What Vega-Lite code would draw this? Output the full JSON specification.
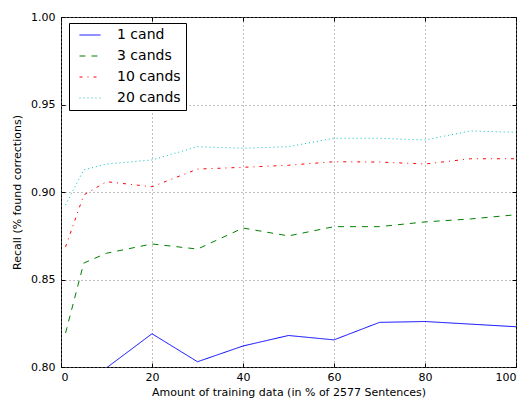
{
  "$schema": "https://vega.github.io/schema/vega-lite/v6.json",
  "width": 455,
  "height": 350,
  "autosize": "none",
  "padding": {"left": 61, "top": 17, "right": 14, "bottom": 34},
  "config": {
    "font": "DejaVu Sans",
    "view": {"stroke": "black", "strokeWidth": 1},
    "axis": {
      "labelFont": "DejaVu Sans",
      "titleFont": "DejaVu Sans",
      "labelFontSize": 11,
      "titleFontSize": 11,
      "titleFontWeight": "normal",
      "labelColor": "black",
      "titleColor": "black",
      "tickColor": "black",
      "domain": false,
      "grid": true,
      "gridColor": "#808080",
      "gridDash": [1, 3],
      "gridOpacity": 1,
      "gridWidth": 1,
      "tickSize": -4,
      "labelPadding": 10
    }
  },
  "data": {
    "values": [
      {"pct": 1, "recall": 0.72, "series": "1 cand"},
      {"pct": 5, "recall": 0.78, "series": "1 cand"},
      {"pct": 10, "recall": 0.7995, "series": "1 cand"},
      {"pct": 20, "recall": 0.819, "series": "1 cand"},
      {"pct": 30, "recall": 0.803, "series": "1 cand"},
      {"pct": 40, "recall": 0.812, "series": "1 cand"},
      {"pct": 50, "recall": 0.818, "series": "1 cand"},
      {"pct": 60, "recall": 0.8155, "series": "1 cand"},
      {"pct": 70, "recall": 0.8255, "series": "1 cand"},
      {"pct": 80, "recall": 0.826, "series": "1 cand"},
      {"pct": 90, "recall": 0.8245, "series": "1 cand"},
      {"pct": 100, "recall": 0.823, "series": "1 cand"},
      {"pct": 1, "recall": 0.8194, "series": "3 cands"},
      {"pct": 5, "recall": 0.8594, "series": "3 cands"},
      {"pct": 10, "recall": 0.865, "series": "3 cands"},
      {"pct": 20, "recall": 0.8703, "series": "3 cands"},
      {"pct": 30, "recall": 0.8674, "series": "3 cands"},
      {"pct": 40, "recall": 0.8794, "series": "3 cands"},
      {"pct": 50, "recall": 0.8749, "series": "3 cands"},
      {"pct": 60, "recall": 0.8802, "series": "3 cands"},
      {"pct": 70, "recall": 0.8802, "series": "3 cands"},
      {"pct": 80, "recall": 0.8829, "series": "3 cands"},
      {"pct": 90, "recall": 0.8846, "series": "3 cands"},
      {"pct": 100, "recall": 0.887, "series": "3 cands"},
      {"pct": 1, "recall": 0.8686, "series": "10 cands"},
      {"pct": 5, "recall": 0.8983, "series": "10 cands"},
      {"pct": 10, "recall": 0.9059, "series": "10 cands"},
      {"pct": 20, "recall": 0.903, "series": "10 cands"},
      {"pct": 30, "recall": 0.9131, "series": "10 cands"},
      {"pct": 40, "recall": 0.9141, "series": "10 cands"},
      {"pct": 50, "recall": 0.9153, "series": "10 cands"},
      {"pct": 60, "recall": 0.9173, "series": "10 cands"},
      {"pct": 70, "recall": 0.9171, "series": "10 cands"},
      {"pct": 80, "recall": 0.916, "series": "10 cands"},
      {"pct": 90, "recall": 0.919, "series": "10 cands"},
      {"pct": 100, "recall": 0.919, "series": "10 cands"},
      {"pct": 1, "recall": 0.8926, "series": "20 cands"},
      {"pct": 5, "recall": 0.9126, "series": "20 cands"},
      {"pct": 10, "recall": 0.916, "series": "20 cands"},
      {"pct": 20, "recall": 0.9183, "series": "20 cands"},
      {"pct": 30, "recall": 0.9259, "series": "20 cands"},
      {"pct": 40, "recall": 0.925, "series": "20 cands"},
      {"pct": 50, "recall": 0.9259, "series": "20 cands"},
      {"pct": 60, "recall": 0.9307, "series": "20 cands"},
      {"pct": 70, "recall": 0.9307, "series": "20 cands"},
      {"pct": 80, "recall": 0.9297, "series": "20 cands"},
      {"pct": 90, "recall": 0.9349, "series": "20 cands"},
      {"pct": 100, "recall": 0.9341, "series": "20 cands"}
    ]
  },
  "layer": [
    {
      "mark": {"type": "line", "clip": true, "strokeWidth": 1},
      "encoding": {
        "x": {
          "field": "pct", "type": "quantitative",
          "scale": {"domain": [0, 100], "nice": false, "zero": false},
          "axis": {"orient": "bottom", "values": [0, 20, 40, 60, 80, 100], "title": "Amount of training data (in % of 2577 Sentences)", "titlePadding": 4, "labelPadding": 8}
        },
        "y": {
          "field": "recall", "type": "quantitative",
          "scale": {"domain": [0.8, 1.0], "nice": false, "zero": false},
          "axis": {"orient": "left", "values": [0.8, 0.85, 0.9, 0.95, 1.0], "format": ".2f", "title": "Recall (% found corrections)", "titlePadding": 8}
        },
        "color": {
          "field": "series", "type": "nominal",
          "scale": {"domain": ["1 cand", "3 cands", "10 cands", "20 cands"], "range": ["#0000ff", "#008000", "#ff0000", "#00bfbf"]},
          "legend": {
            "title": null,
            "orient": "none",
            "legendX": 8,
            "legendY": 6,
            "symbolType": "stroke",
            "symbolSize": 441,
            "symbolStrokeWidth": 1,
            "symbolOffset": 5,
            "clipHeight": 14,
            "labelFontSize": 14,
            "labelFont": "DejaVu Sans",
            "labelColor": "black",
            "labelOffset": 16,
            "rowPadding": 7,
            "padding": 5,
            "strokeColor": "black",
            "fillColor": "white",
            "cornerRadius": 0
          }
        },
        "strokeDash": {
          "field": "series", "type": "nominal",
          "scale": {"domain": ["1 cand", "3 cands", "10 cands", "20 cands"], "range": [[1, 0], [6, 6], [3, 5, 1, 5], [1, 3]]},
          "legend": null
        },
        "detail": {"field": "series"}
      }
    },
    {
      "mark": {"type": "line", "opacity": 0},
      "encoding": {
        "x": {
          "field": "pct", "type": "quantitative",
          "scale": {"domain": [0, 100], "nice": false, "zero": false},
          "axis": {"orient": "top", "values": [0, 20, 40, 60, 80, 100], "labels": false, "grid": false, "title": null}
        },
        "y": {
          "field": "recall", "type": "quantitative",
          "scale": {"domain": [0.8, 1.0], "nice": false, "zero": false},
          "axis": {"orient": "right", "values": [0.8, 0.85, 0.9, 0.95, 1.0], "labels": false, "grid": false, "title": null}
        },
        "detail": {"field": "series"}
      }
    }
  ],
  "resolve": {"axis": {"x": "independent", "y": "independent"}}
}
